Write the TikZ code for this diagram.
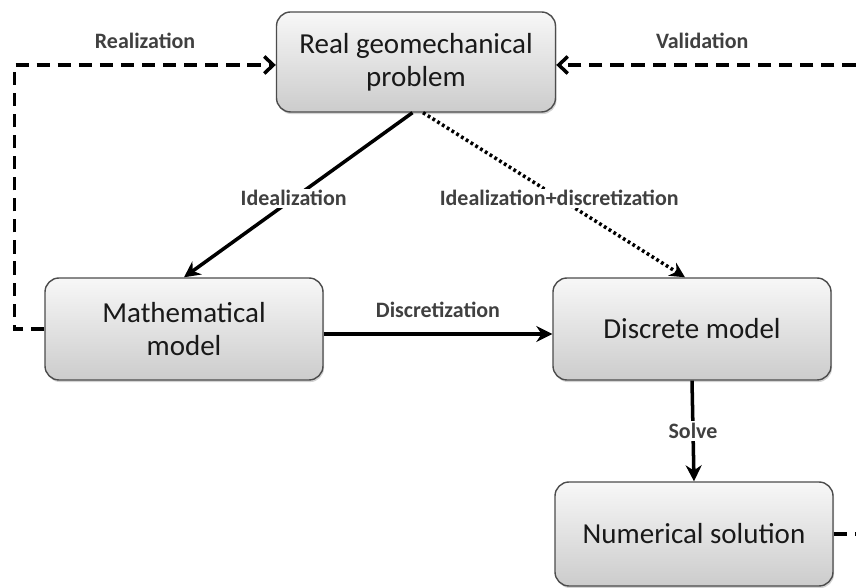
\documentclass[tikz,border=0pt]{standalone}
\usepackage{fontspec}
\setmainfont{Carlito}
\usetikzlibrary{arrows.meta,shadows}

\begin{document}
\begin{tikzpicture}[
    font=\fontsize{16.5}{19}\selectfont,
    stepbox/.style={draw=black!70, line width=0.8pt, rounded corners=8pt, top color=gray!6, bottom color=gray!40, minimum width=5.56cm, minimum height=2.04cm, align=center, text=black!90, drop shadow={shadow xshift=0.6pt, shadow yshift=-1.2pt, opacity=0.35}},
    lbl/.style={font=\fontsize{12.5}{14}\selectfont\bfseries, text=black!75},
    arrow/.style={-{Stealth[length=3.2mm, width=3.2mm]}, line width=2pt},
    dotarrow/.style={-{Stealth[length=3mm, width=3mm]}, line width=2pt, dash pattern=on 1.6pt off 1.6pt},
    dasharrow/.style={-{Straight Barb[length=1.8mm, width=3.4mm]}, line width=2pt, dash pattern=on 7.5pt off 4.5pt}
]
    \clip (0,0) rectangle (17.12,11.76);

    % Boites
    \node[stepbox, minimum width=5.58cm, minimum height=2.0cm] (real) at (8.32,10.52) {Real geomechanical\\problem};
    \node[stepbox] (math) at (3.68,5.18) {Mathematical\\model};
    \node[stepbox] (disc) at (13.84,5.18) {Discrete model};
    \node[stepbox, minimum height=2.08cm] (num) at (13.88,1.08) {Numerical solution};

    % Liens principaux
    \draw[arrow] ([xshift=-2pt]real.south) -- node[lbl, pos=0.52, fill=white, inner sep=1pt] {Idealization} (math.north);
    \draw[dotarrow] ([xshift=4pt]real.south) -- node[lbl, pos=0.52, fill=white, inner sep=1pt] {Idealization+discretization} ([xshift=-4pt]disc.north);
    \draw[arrow] ([yshift=-0.1cm]math.east) -- node[lbl, above=5pt] {Discretization} ([yshift=-0.1cm]disc.west);
    \draw[arrow] (disc.south) -- node[lbl, fill=white, inner sep=1.5pt] {Solve} (num.north);

    % Boucles
    \draw[dasharrow] (math.west) -- ++(-0.6,0) |- node[lbl, pos=0.75, above=5pt] {Realization} ([yshift=-0.06cm]real.west);
    \draw[dasharrow] (num.east) -- ++(0.8,0) |- node[lbl, pos=0.77, above=5pt] {Validation} ([yshift=-0.06cm]real.east);

\end{tikzpicture}
\end{document}
